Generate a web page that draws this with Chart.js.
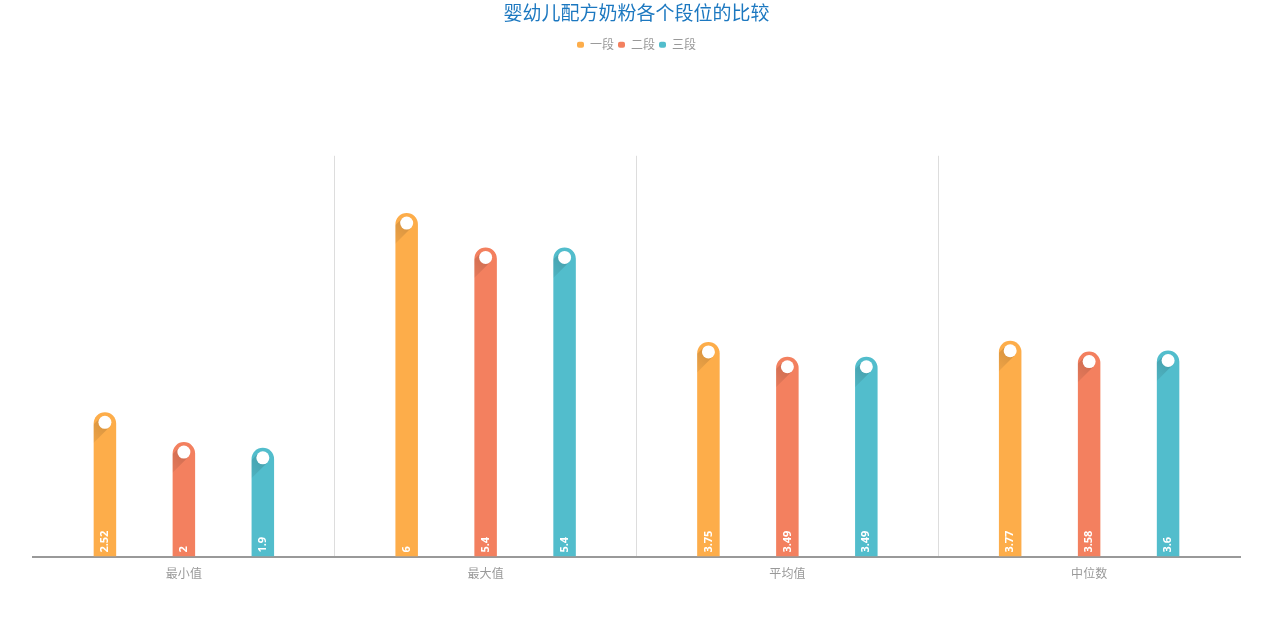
<!DOCTYPE html>
<html>
<head>
<meta charset="utf-8">
<script src="https://cdn.jsdelivr.net/npm/chart.js@4/dist/chart.umd.min.js"></script>
<style>
html,body{margin:0;padding:0;background:#fff;}
#wrap{width:1268px;height:620px;position:relative;}
</style>
</head>
<body>
<div id="wrap"><canvas id="c" width="1268" height="620"></canvas></div>
<script>
const titleText = '婴幼儿配方奶粉各个段位的比较';
const categories = ['最小值', '最大值', '平均值', '中位数'];
const seriesNames = ['一段', '二段', '三段'];
const stage1 = [2.52, 6, 3.75, 3.77];
const stage2 = [2, 5.4, 3.49, 3.58];
const stage3 = [1.9, 5.4, 3.49, 3.6];
const colors = ['#FDAD4A', '#F3805F', '#52BDCC'];

const pinPlugin = {
  id: 'pins',
  beforeInit(chart) {
    const origFit = chart.legend.fit;
    chart.legend.fit = function () {
      origFit.bind(chart.legend)();
      this.height += 95;
    };
  },
  afterDatasetsDraw(chart) {
    const ctx = chart.ctx;
    chart.data.datasets.forEach((ds, di) => {
      const meta = chart.getDatasetMeta(di);
      meta.data.forEach((bar, i) => {
        const x = bar.x, top = bar.y, base = bar.base, w = bar.width;
        const left = x - w / 2, right = x + w / 2;
        const r = w / 2;
        const cx = x, cy = top + 10, dr = 6.5;
        ctx.save();
        ctx.beginPath();
        ctx.moveTo(left, base);
        ctx.lineTo(left, top + r);
        ctx.arc(x, top + r, r, Math.PI, 0);
        ctx.lineTo(right, base);
        ctx.closePath();
        ctx.clip();
        const k = dr / Math.SQRT2;
        const p1x = cx + k, p1y = cy + k;
        const p2x = cx - k, p2y = cy - k;
        const L = 60;
        const g = ctx.createLinearGradient(cx, cy, cx - 25, cy + 25);
        g.addColorStop(0, 'rgba(0,0,0,0.15)');
        g.addColorStop(1, 'rgba(0,0,0,0)');
        ctx.fillStyle = g;
        ctx.beginPath();
        ctx.moveTo(p2x, p2y);
        ctx.lineTo(p1x, p1y);
        ctx.lineTo(p1x - L, p1y + L);
        ctx.lineTo(p2x - L, p2y + L);
        ctx.closePath();
        ctx.fill();
        ctx.restore();
        ctx.save();
        ctx.fillStyle = '#ffffff';
        ctx.beginPath();
        ctx.arc(cx, cy, dr, 0, Math.PI * 2);
        ctx.fill();
        ctx.restore();
        const v = ds.data[i];
        ctx.save();
        ctx.translate(x, base - 4);
        ctx.rotate(-Math.PI / 2);
        ctx.fillStyle = '#ffffff';
        ctx.font = 'bold 11px "Open Sans", "DejaVu Sans", sans-serif';
        ctx.textAlign = 'left';
        ctx.textBaseline = 'middle';
        ctx.fillText(String(v), 0, 0);
        ctx.restore();
      });
    });
  }
};

const datasets = [stage1, stage2, stage3].map((d, i) => ({
  label: seriesNames[i],
  data: d,
  backgroundColor: colors[i],
  borderWidth: 0,
  borderRadius: {topLeft: 12, topRight: 12, bottomLeft: 0, bottomRight: 0},
  borderSkipped: 'bottom',
  categoryPercentage: 0.785,
  barPercentage: 0.285
}));

new Chart(document.getElementById('c'), {
  type: 'bar',
  data: { labels: categories, datasets },
  plugins: [pinPlugin],
  options: {
    responsive: false,
    animation: false,
    layout: { padding: { left: 33, right: 28, top: 0, bottom: 29 } },
    plugins: {
      title: {
        display: true,
        text: titleText,
        color: '#1C78C0',
        font: { size: 19, family: '"Noto Sans CJK SC", sans-serif', weight: 'normal' },
        padding: { top: 1, bottom: 11 }
      },
      legend: {
        display: true,
        labels: {
          color: '#999999',
          font: { size: 12, family: '"Noto Sans CJK SC", sans-serif' },
          boxWidth: 7,
          boxHeight: 6,
          padding: 4,
          useBorderRadius: true,
          borderRadius: 2
        }
      },
      tooltip: { enabled: false }
    },
    scales: {
      x: {
        offset: true,
        grid: {
          display: true,
          drawTicks: false,
          color: (c) => (c.type !== 'tick' || c.index === 0) ? 'rgba(0,0,0,0)' : '#dddddd',
          lineWidth: 1
        },
        border: { display: true, color: '#999999', width: 2 },
        ticks: {
          color: '#999999',
          padding: 10,
          font: { size: 12, family: '"Noto Sans CJK SC", sans-serif' }
        }
      },
      y: {
        display: false,
        min: 0,
        max: 7
      }
    }
  }
});
</script>
</body>
</html>
